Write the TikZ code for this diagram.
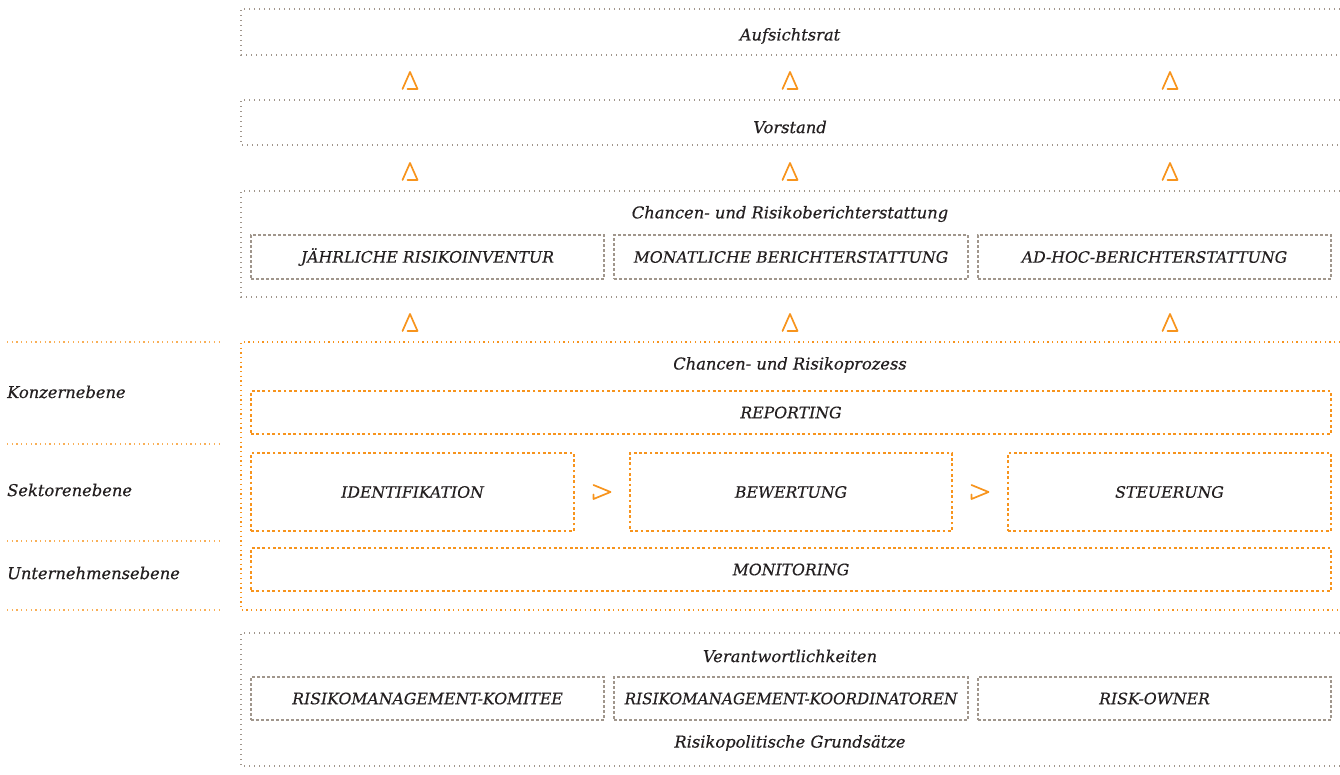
\documentclass[tikz,border=0pt]{standalone}
\usepackage{fontspec}
\setmainfont{DejaVu Serif}
\usetikzlibrary{calc}
\definecolor{dotgray}{HTML}{A0968C}
\definecolor{orng}{HTML}{F7941D}
\definecolor{txt}{HTML}{231F20}
\tikzset{
  x=1pt,y=-1pt,
  lbl/.style={font=\fontsize{16.3}{18}\selectfont\itshape\addfontfeature{FakeBold=0.35}, text=txt, inner sep=0pt},
  caps/.style={font=\fontsize{15.7}{18}\selectfont\itshape\addfontfeature{FakeBold=0.35}, text=txt, inner sep=0pt},
  area/.style={anchor=north west, inner sep=0pt, outer sep=0pt},
  graydots/.style={draw=dotgray, line width=1.3pt, dash pattern=on 1.3pt off 3.7pt},
  grayheavy/.style={draw=dotgray, line width=2.6pt, dash pattern=on 2.6pt off 2.4pt},
  orangedots/.style={draw=orng, line width=1.3pt, dash pattern=on 1.3pt off 3.4pt},
  orangeheavy/.style={draw=orng, line width=2.7pt, dash pattern=on 2.7pt off 2.6pt},
  lightorange/.style={draw=orng!75, line width=1.3pt, dash pattern=on 1.3pt off 3.4pt},
  tri/.style={draw=orng, line width=1.7pt, line cap=round, line join=round},
  uptri/.pic={\draw[tri] (-7.5,8.5) -- (0,-8.5) -- (7.5,8.5) -- (-2.5,8.5);},
  righttri/.pic={\draw[tri] (-8.5,-7) -- (8.5,0) -- (-8.5,7) -- (-8.5,2.5);}
}
\newcommand{\openbox}[2]{\draw[#1] (#2.north east) -- (#2.north west) -- (#2.south west) -- (#2.south east);}
\begin{document}
\begin{tikzpicture}
\useasboundingbox (0,0) rectangle (1340,774);
% outer areas (open on the right)
\node[area, minimum width=1099pt, minimum height=46pt] (auf) at (241,9) {};
\node[area, minimum width=1099pt, minimum height=45pt] (vor) at (241,100) {};
\node[area, minimum width=1099pt, minimum height=106pt] (ber) at (241,191) {};
\node[area, minimum width=1099pt, minimum height=268pt] (proz) at (241,342) {};
\node[area, minimum width=1099pt, minimum height=133pt] (ver) at (241,633) {};
\openbox{graydots}{auf}
\openbox{graydots}{vor}
\openbox{graydots}{ber}
\openbox{orangedots}{proz}
\openbox{graydots}{ver}
% titles
\node[lbl] (tauf) at (790,36) {Aufsichtsrat};
\node[lbl] (tvor) at (790,127) {Vorstand};
\node[lbl] (tber) at (790,214) {Chancen- und Risikoberichterstattung};
\node[lbl] (tproz) at (790,365) {Chancen- und Risikoprozess};
\node[lbl] (tver) at (790,656) {Verantwortlichkeiten};
\node[lbl] (tgrund) at (790,743) {Risikopolitische Grundsätze};
% reporting inner boxes
\node[area, grayheavy, minimum width=353pt, minimum height=44pt] (jri) at (251,235) {};
\node[area, grayheavy, minimum width=354pt, minimum height=44pt] (mbe) at (614,235) {};
\node[area, grayheavy, minimum width=353pt, minimum height=44pt] (adh) at (978,235) {};
\node[caps] at (jri.center) {JÄHRLICHE RISIKOINVENTUR};
\node[caps] at (mbe.center) {MONATLICHE BERICHTERSTATTUNG};
\node[caps] at (adh.center) {AD-HOC-BERICHTERSTATTUNG};
% process boxes
\node[area, orangeheavy, minimum width=1080pt, minimum height=43pt] (rep) at (251,391) {};
\node[area, orangeheavy, minimum width=323pt, minimum height=78pt] (ide) at (251,453) {};
\node[area, orangeheavy, minimum width=322pt, minimum height=78pt] (bew) at (630,453) {};
\node[area, orangeheavy, minimum width=323pt, minimum height=78pt] (ste) at (1008,453) {};
\node[area, orangeheavy, minimum width=1080pt, minimum height=43pt] (moni) at (251,548) {};
\node[caps] at (rep.center) {REPORTING};
\node[caps] at (ide.center) {IDENTIFIKATION};
\node[caps] at (bew.center) {BEWERTUNG};
\node[caps] at (ste.center) {STEUERUNG};
\node[caps] at (moni.center) {MONITORING};
% responsibility boxes
\node[area, grayheavy, minimum width=353pt, minimum height=43pt] (rmk) at (251,677) {};
\node[area, grayheavy, minimum width=354pt, minimum height=43pt] (rko) at (614,677) {};
\node[area, grayheavy, minimum width=353pt, minimum height=43pt] (ro) at (978,677) {};
\node[caps] at (rmk.center) {RISIKOMANAGEMENT-KOMITEE};
\node[caps, xscale=0.97] at (rko.center) {RISIKOMANAGEMENT-KOORDINATOREN};
\node[caps] at (ro.center) {RISK-OWNER};
% level labels
\coordinate (l1a) at (7,342); \coordinate (l1b) at (219,342);
\coordinate (l2a) at (7,444); \coordinate (l2b) at (219,444);
\coordinate (l3a) at (7,541); \coordinate (l3b) at (219,541);
\coordinate (l4a) at (7,610); \coordinate (l4b) at (219,610);
\draw[lightorange] (l1a) -- (l1b);
\draw[lightorange] (l2a) -- (l2b);
\draw[lightorange] (l3a) -- (l3b);
\draw[lightorange] (l4a) -- (l4b);
\node[lbl, anchor=west] (konz) at (7,392) {Konzernebene};
\node[lbl, anchor=west] (sekt) at (7,490) {Sektorenebene};
\node[lbl, anchor=west] (unt) at (7,573) {Unternehmensebene};
% upward arrows
\foreach \xx in {410,790,1170}{
  \pic at (\xx,80.5) {uptri};
  \pic at (\xx,171.5) {uptri};
  \pic at (\xx,322.5) {uptri};
}
% process arrows
\pic at ($(ide.east)!0.5!(bew.west)$) {righttri};
\pic at ($(bew.east)!0.5!(ste.west)$) {righttri};
\end{tikzpicture}
\end{document}
